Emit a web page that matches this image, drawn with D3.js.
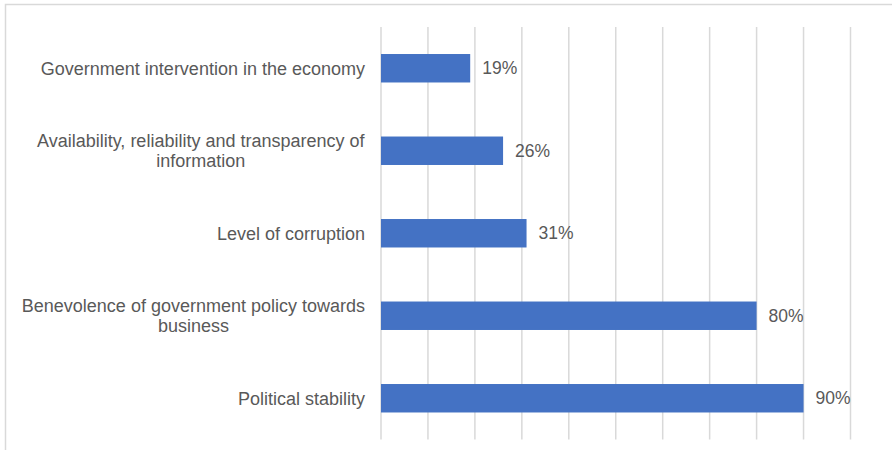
<!DOCTYPE html>
<html>
<head>
<meta charset="utf-8">
<script src="https://cdn.jsdelivr.net/npm/d3@7"></script>
<style>
  html, body { margin: 0; padding: 0; background: #fff; }
  svg { display: block; }
</style>
</head>
<body>
<svg id="chart" width="892" height="450"></svg>
<script>
// Survey factors and share of respondents citing each one
const categories = [
  ["Government intervention in the economy"],
  ["Availability, reliability and transparency of", "information"],
  ["Level of corruption"],
  ["Benevolence of government policy towards", "business"],
  ["Political stability"]
];
const values = [19, 26, 31, 80, 90];
const tickValues = [0, 10, 20, 30, 40, 50, 60, 70, 80, 90, 100];

const svg = d3.select("#chart");
const W = 892, H = 450;
const margin = { top: 27, right: 41.5, bottom: 10.5, left: 381 };
const FONT = "Liberation Sans, Arial, sans-serif";

// Outer frame (top and left edges visible)
svg.append("path")
  .attr("d", `M5.5,${H} V4.5 H${W}`)
  .attr("fill", "none")
  .attr("stroke", "#d9d9d9")
  .attr("stroke-width", 1.5);

const x = d3.scaleLinear()
  .domain([0, 100])
  .range([margin.left, W - margin.right]);

const y = d3.scaleBand()
  .domain(d3.range(categories.length))
  .range([margin.top, H - margin.bottom])
  .paddingInner(0.655)
  .paddingOuter(0.3275);

// Vertical gridlines
svg.append("g")
  .selectAll("line")
  .data(tickValues)
  .join("line")
  .attr("x1", d => x(d))
  .attr("x2", d => x(d))
  .attr("y1", margin.top)
  .attr("y2", H - margin.bottom)
  .attr("stroke", "#d9d9d9")
  .attr("stroke-width", 1.5);

// Bars
svg.append("g")
  .selectAll("rect")
  .data(values)
  .join("rect")
  .attr("x", x(0))
  .attr("y", (d, i) => y(i))
  .attr("width", d => x(d) - x(0))
  .attr("height", y.bandwidth())
  .attr("fill", "#4472c4");

// Value labels
svg.append("g")
  .selectAll("text")
  .data(values)
  .join("text")
  .attr("x", d => x(d) + 12)
  .attr("y", (d, i) => y(i) + y.bandwidth() / 2)
  .attr("dy", "0.35em")
  .attr("font-family", FONT)
  .attr("font-size", 17.5)
  .attr("fill", "#595959")
  .text(d => d + "%");

// Category labels (centred multi-line, right edge near the axis)
const labelG = svg.append("g");
categories.forEach((lines, i) => {
  const cy = y(i) + y.bandwidth() / 2;
  const lh = 19.5;
  const t = labelG.append("text")
    .attr("font-family", FONT)
    .attr("font-size", 18)
    .attr("fill", "#595959")
    .attr("text-anchor", "middle");
  lines.forEach((line, j) => {
    t.append("tspan")
      .attr("x", 0)
      .attr("y", cy + (j - (lines.length - 1) / 2) * lh)
      .attr("dy", "0.35em")
      .text(line);
  });
  // widest line ends 16px left of the axis
  const bb = t.node().getBBox();
  t.selectAll("tspan").attr("x", x(0) - 16 - bb.width / 2);
});
</script>
</body>
</html>
